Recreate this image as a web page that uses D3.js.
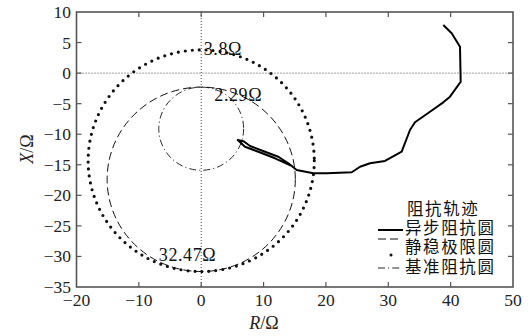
<!DOCTYPE html>
<html>
<head>
<meta charset="utf-8">
<script src="https://cdn.jsdelivr.net/npm/d3@7/dist/d3.min.js"></script>
<style>
  html, body { margin: 0; padding: 0; background: #fff; }
  svg { display: block; }
</style>
</head>
<body>
<script>
// Impedance trajectory (R, X in ohms), in time order
const trajR = [38.82, 40.17, 41.50, 41.61, 39.90, 38.82, 36.69, 34.28, 33.48, 32.15,
               29.47, 27.07, 25.47, 24.14, 20.13, 17.98, 15.31, 13.97, 12.37, 10.23,
               7.83, 6.86, 5.85, 7.02, 9.16, 11.83, 14.40];
const trajX = [7.87, 6.51, 4.32, -1.41, -3.86, -4.78, -6.32, -8.05, -9.31, -12.86,
               -14.38, -14.76, -15.32, -16.23, -16.40, -16.40, -15.86, -14.76, -13.68, -12.86,
               -11.93, -11.19, -10.95, -12.04, -12.86, -13.94, -15.12];

// Circles on the X axis, given by their top and bottom reactance (ohms)
const circleNames = ["静稳极限圆", "异步阻抗圆", "基准阻抗圆"];
const circleTop    = [3.8, -2.29, -2.29];
const circleBottom = [-32.47, -32.47, -15.9];

// Value labels
const noteText = ["3.8Ω", "2.29Ω", "32.47Ω"];

// Axis ticks
const xTicks = [-20, -10, 0, 10, 20, 30, 40, 50];
const yTicks = [10, 5, 0, -5, -10, -15, -20, -25, -30, -35];

// Legend text
const legendLabels = ["阻抗轨迹", "异步阻抗圆", "静稳极限圆", "基准阻抗圆"];

const W = 528, H = 336;
const pL = 76.5, pR = 513, pT = 12, pB = 287;

const SERIF = '"Liberation Serif", "Times New Roman", serif';
const CJK = '"Noto Sans CJK SC", sans-serif';

const svg = d3.select("body").append("svg").attr("width", W).attr("height", H);

const x = d3.scaleLinear().domain([-20, 50]).range([pL, pR]);
const y = d3.scaleLinear().domain([-35, 10]).range([pB, pT]);

const clipId = "plotClip";
svg.append("clipPath").attr("id", clipId).append("rect")
  .attr("x", pL).attr("y", pT).attr("width", pR - pL).attr("height", pB - pT);

const plot = svg.append("g").attr("clip-path", `url(#${clipId})`);

// Reference lines R = 0 and X = 0
plot.append("line")
  .attr("x1", x(-20)).attr("x2", x(50)).attr("y1", y(0)).attr("y2", y(0))
  .attr("stroke", "#444").attr("stroke-width", 1).attr("stroke-dasharray", "1 2");
plot.append("line")
  .attr("x1", x(0)).attr("x2", x(0)).attr("y1", y(10)).attr("y2", y(-35))
  .attr("stroke", "#444").attr("stroke-width", 1).attr("stroke-dasharray", "1 2");

// Circle styles
const circleStyle = [
  { w: 3.2, dash: "0 7", cap: "round" },      // dotted
  { w: 1, dash: "8 4", cap: "butt" },         // dashed
  { w: 0.9, dash: "7 3 1.2 3", cap: "butt" }  // dash-dot
];

circleNames.forEach((name, i) => {
  const cy = (circleTop[i] + circleBottom[i]) / 2;
  const r = (circleTop[i] - circleBottom[i]) / 2;
  plot.append("ellipse")
    .attr("cx", x(0)).attr("cy", y(cy))
    .attr("rx", x(r) - x(0)).attr("ry", y(0) - y(r))
    .attr("fill", "none").attr("stroke", "#111")
    .attr("stroke-width", circleStyle[i].w)
    .attr("stroke-dasharray", circleStyle[i].dash)
    .attr("stroke-linecap", circleStyle[i].cap);
});

// Impedance trajectory
const line = d3.line().x(d => x(d[0])).y(d => y(d[1]));
plot.append("path")
  .datum(trajR.map((r, i) => [r, trajX[i]]))
  .attr("d", line)
  .attr("fill", "none").attr("stroke", "#000")
  .attr("stroke-width", 2).attr("stroke-linejoin", "round");

// Value labels
const notes = [
  { t: noteText[0], r: 0.4, xv: circleTop[0], dy: 5 },
  { t: noteText[1], r: 2.1, xv: circleTop[1], dy: 13.5 },
  { t: noteText[2], r: -6.8, xv: circleBottom[0], dy: -11 }
];
notes.forEach(n => {
  svg.append("text")
    .attr("x", x(n.r)).attr("y", y(n.xv) + n.dy)
    .style("font-family", SERIF).style("font-size", "18px")
    .style("letter-spacing", "0.6px")
    .attr("fill", "#111")
    .text(n.t);
});

// Frame and inward ticks
svg.append("rect")
  .attr("x", pL).attr("y", pT).attr("width", pR - pL).attr("height", pB - pT)
  .attr("fill", "none").attr("stroke", "#555").attr("stroke-width", 1.6);

const tickLen = 5;
const tk = svg.append("g").attr("stroke", "#555").attr("stroke-width", 1.2);
xTicks.slice(1, -1).forEach(v => {
  tk.append("line").attr("x1", x(v)).attr("x2", x(v)).attr("y1", pB).attr("y2", pB - tickLen);
  tk.append("line").attr("x1", x(v)).attr("x2", x(v)).attr("y1", pT).attr("y2", pT + tickLen);
});
yTicks.slice(1, -1).forEach(v => {
  tk.append("line").attr("y1", y(v)).attr("y2", y(v)).attr("x1", pL).attr("x2", pL + tickLen);
  tk.append("line").attr("y1", y(v)).attr("y2", y(v)).attr("x1", pR).attr("x2", pR - tickLen);
});

const fmt = d3.format("d");
svg.append("g").selectAll("text").data(xTicks).join("text")
  .attr("x", d => x(d)).attr("y", 306)
  .attr("text-anchor", "middle")
  .style("font-family", SERIF).style("font-size", "17.5px")
  .attr("fill", "#222")
  .text(d => fmt(d));
svg.append("g").selectAll("text").data(yTicks).join("text")
  .attr("x", 71).attr("y", d => y(d) + 6)
  .attr("text-anchor", "end")
  .style("font-family", SERIF).style("font-size", "17.5px")
  .attr("fill", "#222")
  .text(d => fmt(d));

// Axis titles
const xt = svg.append("text").attr("x", 264).attr("y", 329)
  .attr("text-anchor", "middle")
  .style("font-family", SERIF).style("font-size", "18px").attr("fill", "#222");
xt.append("tspan").style("font-style", "italic").text("R");
xt.append("tspan").text("/Ω");

const yt = svg.append("text")
  .attr("transform", "translate(33,149) rotate(-90)")
  .attr("text-anchor", "middle")
  .style("font-family", SERIF).style("font-size", "18px").attr("fill", "#222");
yt.append("tspan").style("font-style", "italic").text("X");
yt.append("tspan").text("/Ω");

// Legend
const lg = svg.append("g");
const legendTextPos = [[407, 215], [405, 234], [405, 253], [405, 273]];
legendLabels.forEach((t, i) => {
  lg.append("text")
    .attr("x", legendTextPos[i][0]).attr("y", legendTextPos[i][1])
    .style("font-family", CJK).style("font-size", "16.5px")
    .style("letter-spacing", "1.6px")
    .attr("fill", "#111")
    .text(t);
});
lg.append("line").attr("x1", 378).attr("x2", 403).attr("y1", 230).attr("y2", 230)
  .attr("stroke", "#000").attr("stroke-width", 2);
lg.append("line").attr("x1", 378).attr("x2", 402).attr("y1", 239).attr("y2", 239)
  .attr("stroke", "#111").attr("stroke-width", 1).attr("stroke-dasharray", "8 4");
lg.append("circle").attr("cx", 391).attr("cy", 255).attr("r", 1.5).attr("fill", "#111");
lg.append("line").attr("x1", 378).attr("x2", 402).attr("y1", 268).attr("y2", 268)
  .attr("stroke", "#111").attr("stroke-width", 0.9).attr("stroke-dasharray", "7 3 1.2 3");
</script>
</body>
</html>
